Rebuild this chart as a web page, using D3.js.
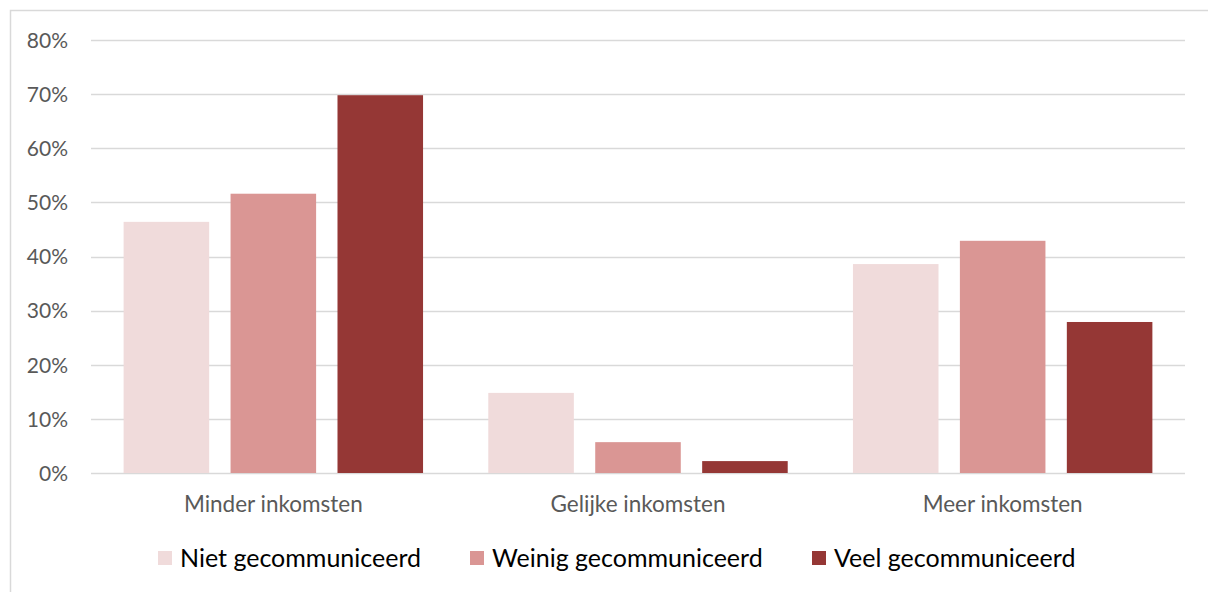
<!DOCTYPE html>
<html><head><meta charset="utf-8">
<script src="https://cdn.jsdelivr.net/npm/d3@7"></script>
<style>body{margin:0;background:#fff}svg{display:block}</style>
</head><body>
<svg id="c" width="1208" height="592"></svg>
<script>
const categories = ["Minder inkomsten", "Gelijke inkomsten", "Meer inkomsten"];
const seriesNames = ["Niet gecommuniceerd", "Weinig gecommuniceerd", "Veel gecommuniceerd"];
const nietValues = [46.4, 14.8, 38.6];
const weinigValues = [51.6, 5.7, 42.9];
const veelValues = [69.8, 2.2, 27.9];
const yTicks = [0, 10, 20, 30, 40, 50, 60, 70, 80];
const colors = ["#F0DBDB", "#DA9694", "#953735"];

const series = [nietValues, weinigValues, veelValues];
const svg = d3.select("#c");
const m = {left: 91, right: 1185, top: 40, bottom: 473};
const font = "Lato, 'Open Sans', sans-serif";

svg.append("rect").attr("x", 10.5).attr("y", 10.5).attr("width", 1200).attr("height", 600)
  .attr("fill", "#fff").attr("stroke", "#d9d9d9").attr("stroke-width", 1.5);

const x = d3.scaleBand().domain(categories).range([m.left, m.right]).paddingInner(0).paddingOuter(0);
const xs = d3.scaleBand().domain(d3.range(3)).range([0, x.bandwidth()]).paddingInner(0.2).paddingOuter(0.305);
const y = d3.scaleLinear().domain([0, 80]).range([m.bottom, m.top]);

const grid = svg.append("g");
grid.selectAll("line").data(yTicks).join("line")
  .attr("x1", m.left).attr("x2", m.right)
  .attr("y1", d => Math.round(y(d)) + 0.5).attr("y2", d => Math.round(y(d)) + 0.5)
  .attr("stroke", "#d9d9d9").attr("stroke-width", 1.5);

const yAxis = d3.axisLeft(y).tickValues(yTicks).tickFormat(d => d + "%").tickSize(0).tickPadding(0);
const ya = svg.append("g").attr("transform", `translate(68,0)`).call(yAxis);
ya.select(".domain").remove();
ya.selectAll("text").attr("font-family", font).attr("font-size", 21).attr("fill", "#595959").attr("dy", "0.35em");

const groups = svg.append("g").selectAll("g").data(categories).join("g")
  .attr("transform", d => `translate(${x(d)},0)`);
groups.selectAll("rect").data((c, i) => series.map((s, j) => ({j, v: s[i]}))).join("rect")
  .attr("x", d => xs(d.j)).attr("width", xs.bandwidth())
  .attr("y", d => y(d.v)).attr("height", d => y(0) - y(d.v))
  .attr("fill", d => colors[d.j]);

const xAxis = d3.axisBottom(x).tickSize(0).tickPadding(0);
const xa = svg.append("g").attr("transform", `translate(0,${m.bottom})`).call(xAxis);
xa.select(".domain").remove();
xa.selectAll("text").attr("font-family", font).attr("font-size", 22.5).attr("fill", "#595959")
  .attr("dy", "0.35em").attr("y", 31);

// legend
const legX = [158, 470, 812];
const leg = svg.append("g").selectAll("g").data(seriesNames).join("g")
  .attr("transform", (d, i) => `translate(${legX[i]},558)`);
leg.append("rect").attr("x", 0).attr("y", -7).attr("width", 14).attr("height", 14)
  .attr("fill", (d, i) => colors[i]);
leg.append("text").attr("x", 22).attr("y", 0).attr("dy", "0.35em")
  .attr("font-family", font).attr("font-size", 25).attr("fill", "#000").text(d => d);
</script>
</body></html>
